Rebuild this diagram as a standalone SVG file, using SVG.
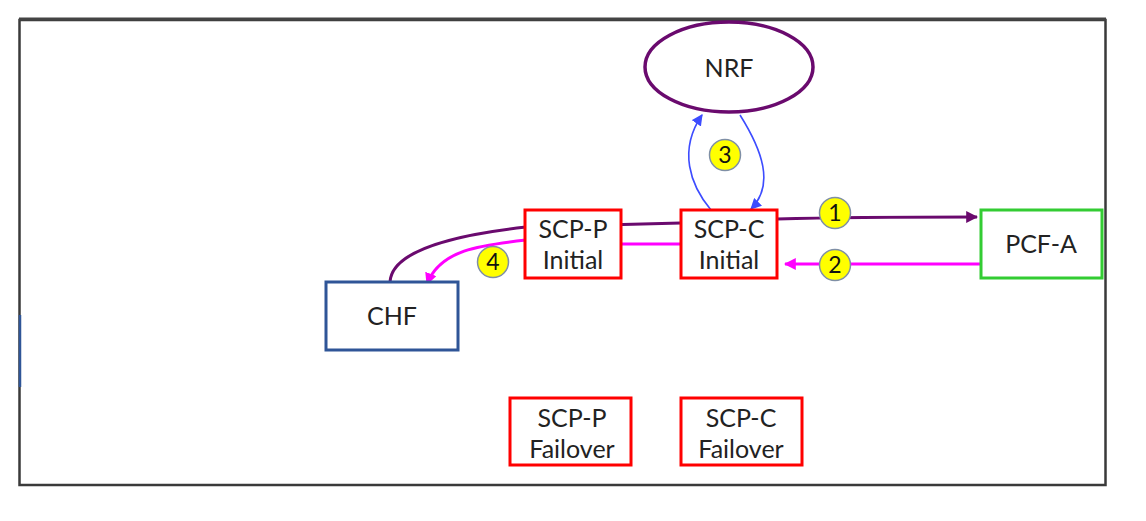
<svg xmlns="http://www.w3.org/2000/svg" width="1146" height="521" viewBox="0 0 1146 521">
<defs>
<style>
.t{font-family:Lato,"Open Sans",sans-serif;font-size:25px;fill:#222;text-anchor:middle}
.n{font-family:Lato,"Open Sans",sans-serif;font-size:23px;fill:#111;text-anchor:middle}
.box{fill:#fff;stroke-width:3}
.red{stroke:#ff0000}
.badge{fill:#ffff00;stroke:#7f8fa6;stroke-width:1.5}
.pur{fill:none;stroke:#6a0a6e;stroke-width:3}
.mag{fill:none;stroke:#ff00ff;stroke-width:3}
.blu{fill:none;stroke:#3d4cff;stroke-width:1.6}
</style>
<marker id="ap" viewBox="0 0 10 10" refX="9" refY="5" markerWidth="4" markerHeight="4" orient="auto"><path d="M0,0 L10,5 L0,10 z" fill="#6a0a6e"/></marker>
<marker id="am" viewBox="0 0 10 10" refX="9" refY="5" markerWidth="4" markerHeight="4" orient="auto"><path d="M0,0 L10,5 L0,10 z" fill="#ff00ff"/></marker>
<marker id="ab" viewBox="0 0 10 10" refX="9" refY="5" markerWidth="7" markerHeight="7" orient="auto"><path d="M0,0 L10,5 L0,10 z" fill="#3d4cff"/></marker>
</defs>
<rect x="0" y="0" width="1146" height="521" fill="#fff"/>
<g id="frame">
<rect x="19.5" y="20" width="1086" height="465" fill="none" stroke="#3a3a3a" stroke-width="2.5"/>
<line x1="19" y1="19" x2="1106" y2="19" stroke="#444" stroke-width="3"/>
<line x1="20" y1="315" x2="20" y2="387" stroke="#2f5597" stroke-width="2.5"/>
</g>
<g id="connectors">
<path class="pur" d="M390,282 C392,245 480,232 526,227 L681,223 L777,219 C850,217 920,217 977,217" marker-end="url(#ap)"/>
<path class="mag" d="M981,264 L785,264" marker-end="url(#am)"/>
<path class="mag" d="M681,244 L620,244"/>
<path class="mag" d="M526,240 C480,245 440,250 427,284" marker-end="url(#am)"/>
<path class="blu" d="M711,210 C690,185 678,150 702,115" marker-end="url(#ab)"/>
<path class="blu" d="M740,115 C762,150 775,185 751,209" marker-end="url(#ab)"/>
</g>
<g id="NRF">
<ellipse cx="729" cy="67" rx="84" ry="45" fill="#fff" stroke="#6a0a6e" stroke-width="3.5"/>
<text class="t" x="729" y="77">NRF</text>
</g>
<g id="SCP-P-Initial">
<rect class="box red" x="525" y="210" width="96" height="68"/>
<text class="t" x="573" y="238">SCP-P<tspan x="573" dy="31">Initial</tspan></text>
</g>
<g id="SCP-C-Initial">
<rect class="box red" x="681" y="210" width="96" height="68"/>
<text class="t" x="729" y="238">SCP-C<tspan x="729" dy="31">Initial</tspan></text>
</g>
<g id="PCF-A">
<rect class="box" stroke="#33cc33" x="981" y="210" width="121" height="68"/>
<text class="t" x="1041" y="253">PCF-A</text>
</g>
<g id="CHF">
<rect class="box" stroke="#2f5597" x="326" y="282" width="132" height="68"/>
<text class="t" x="392" y="325">CHF</text>
</g>
<g id="SCP-P-Failover">
<rect class="box red" x="510" y="398" width="121" height="67"/>
<text class="t" x="572" y="427">SCP-P<tspan x="572" dy="31">Failover</tspan></text>
</g>
<g id="SCP-C-Failover">
<rect class="box red" x="681" y="398" width="121" height="67"/>
<text class="t" x="741" y="427">SCP-C<tspan x="741" dy="31">Failover</tspan></text>
</g>
<g id="badges">
<circle class="badge" cx="835" cy="213" r="15.5"/>
<text class="n" x="835" y="221">1</text>
<circle class="badge" cx="835" cy="265" r="15.5"/>
<text class="n" x="835" y="273">2</text>
<circle class="badge" cx="725" cy="155" r="15.5"/>
<text class="n" x="725" y="163">3</text>
<circle class="badge" cx="493" cy="262" r="15.5"/>
<text class="n" x="493" y="270">4</text>
</g>
</svg>
